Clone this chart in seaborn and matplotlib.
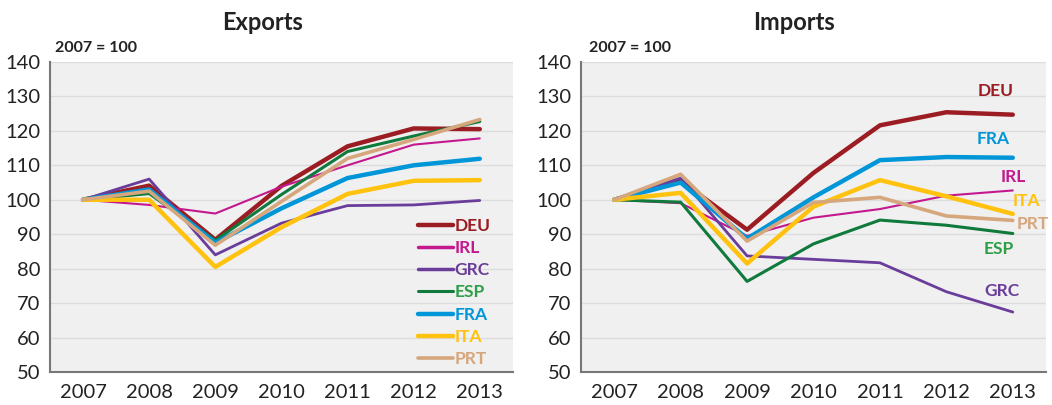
import seaborn as sns
import matplotlib.pyplot as plt
import numpy as np
import pandas as pd

sns.set_style("white")
plt.rcParams['font.family'] = ['Lato', 'DejaVu Sans']

years = [2007, 2008, 2009, 2010, 2011, 2012, 2013]
countries = ["DEU", "IRL", "GRC", "ESP", "FRA", "ITA", "PRT"]

exports_deu = [100, 104.1, 88.4, 104.0, 115.5, 120.7, 120.5]
exports_irl = [100, 98.5, 96.0, 103.8, 110.0, 116.0, 117.8]
exports_grc = [100, 106.0, 84.0, 93.2, 98.3, 98.5, 99.8]
exports_esp = [100, 101.8, 88.2, 101.5, 114.0, 118.5, 122.7]
exports_fra = [100, 103.0, 87.5, 97.5, 106.3, 110.0, 111.9]
exports_ita = [100, 100.0, 80.5, 92.0, 101.7, 105.5, 105.7]
exports_prt = [100, 102.5, 86.8, 99.5, 112.0, 117.5, 123.3]

imports_deu = [100, 105.5, 91.3, 107.8, 121.6, 125.4, 124.7]
imports_irl = [100, 99.0, 89.5, 94.8, 97.3, 101.2, 102.7]
imports_grc = [100, 106.3, 83.7, 82.7, 81.7, 73.3, 67.4]
imports_esp = [100, 99.3, 76.3, 87.2, 94.1, 92.6, 90.2]
imports_fra = [100, 105.0, 88.7, 100.7, 111.5, 112.4, 112.2]
imports_ita = [100, 102.0, 81.5, 98.0, 105.7, 101.0, 95.9]
imports_prt = [100, 107.4, 88.0, 99.2, 100.7, 95.3, 94.0]

colors = {"DEU": "#9B1C22", "IRL": "#C4188E", "GRC": "#6A3D9A", "ESP": "#0F7A3C",
          "FRA": "#0096D8", "ITA": "#FFC20E", "PRT": "#D6A67C"}
label_colors = dict(colors, ESP="#2E9E48")
widths = {"DEU": 3.2, "IRL": 1.5, "GRC": 2.0, "ESP": 2.2, "FRA": 3.2, "ITA": 3.2, "PRT": 2.6}

# import labels: (x offset from 2013 in categories, y value)
imp_label_pos = {"DEU": (-0.26, 131.7), "FRA": (-0.29, 117.7), "IRL": (0.0, 106.7),
                 "ITA": (0.2, 99.5), "PRT": (0.3, 93.1), "ESP": (-0.21, 85.8),
                 "GRC": (-0.17, 73.4)}


def make_df(series):
    rows = []
    for c, vals in zip(countries, series):
        for y, v in zip(years, vals):
            rows.append({"year": y, "country": c, "value": v})
    return pd.DataFrame(rows)


exp_df = make_df([exports_deu, exports_irl, exports_grc, exports_esp,
                  exports_fra, exports_ita, exports_prt])
imp_df = make_df([imports_deu, imports_irl, imports_grc, imports_esp,
                  imports_fra, imports_ita, imports_prt])

fig = plt.figure(figsize=(10.52, 4.05), dpi=100)
ax1 = fig.add_axes([0.0475, 0.0815, 0.440, 0.7655])
ax2 = fig.add_axes([0.5523, 0.0815, 0.442, 0.7655])


def style_axis(ax):
    ax.set_facecolor("#F0F0F0")
    ax.set_xlim(2006.5, 2013.5)
    ax.set_ylim(50, 140)
    ax.set_yticks(range(50, 141, 10))
    ax.set_xticks(years)
    ax.set_xticks([y + 0.5 for y in years[:-1]], minor=True)
    ax.tick_params(axis="x", which="major", length=0, pad=9, labelsize=14.5, colors="#222222")
    ax.tick_params(axis="x", which="minor", length=5, width=1.2, color="#777777", direction="out")
    ax.tick_params(axis="y", length=0, pad=7, labelsize=14.5, colors="#222222")
    ax.grid(axis="y", color="#DCDCDC", linewidth=1)
    ax.set_axisbelow(True)
    for s in ["top", "right"]:
        ax.spines[s].set_visible(False)
    for s in ["left", "bottom"]:
        ax.spines[s].set_color("#777777")
        ax.spines[s].set_linewidth(1.5)
    ax.set_xlabel("")
    ax.set_ylabel("")


for ax, df in [(ax1, exp_df), (ax2, imp_df)]:
    sns.lineplot(data=df, x="year", y="value", hue="country", size="country",
                 palette=colors, sizes=widths, legend=False, ax=ax)
    style_axis(ax)

# exports legend
handles = [plt.Line2D([], [], color=colors[c], linewidth=widths[c] if widths[c] > 2 else 2.5)
           for c in countries]
leg = ax1.legend(handles, countries, loc="lower right", bbox_to_anchor=(0.985, -0.035),
                 frameon=False, handlelength=2.0, handletextpad=0.1, labelspacing=0.36,
                 prop={"size": 12.5, "weight": "bold"})
for t, c in zip(leg.get_texts(), countries):
    t.set_color(label_colors[c])

# imports direct labels
for c in countries:
    dx, yv = imp_label_pos[c]
    ax2.text(2013 + dx, yv, c, color=label_colors[c], fontsize=12.5, fontweight="bold",
             ha="center", va="center", clip_on=False)

fig.text(0.25, 0.945, "Exports", ha="center", va="center", fontsize=17, fontweight="bold", color="#222222")
fig.text(0.755, 0.945, "Imports", ha="center", va="center", fontsize=17, fontweight="bold", color="#222222")
fig.text(0.052, 0.882, "2007 = 100", ha="left", va="center", fontsize=11.5, fontweight="bold", color="#222222")
fig.text(0.56, 0.882, "2007 = 100", ha="left", va="center", fontsize=11.5, fontweight="bold", color="#222222")

fig.savefig("out.png", dpi=100)
